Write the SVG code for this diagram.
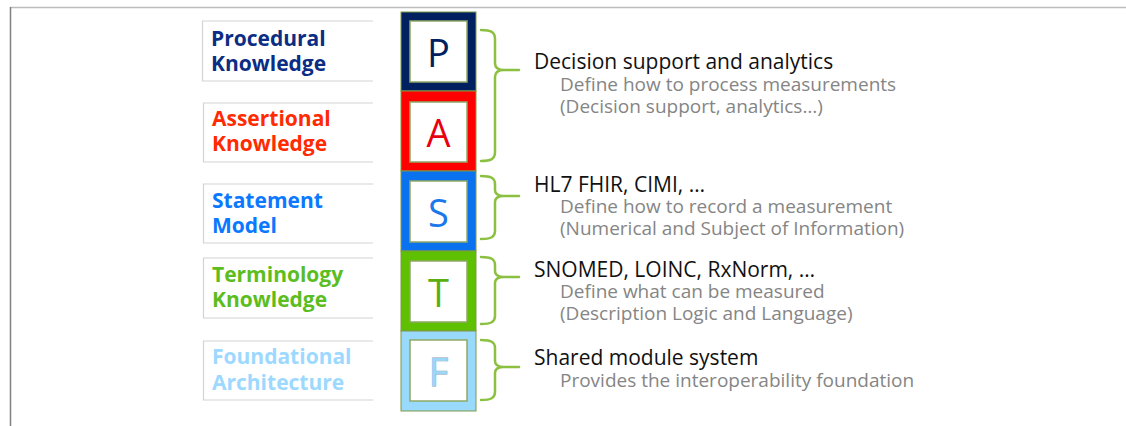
<svg xmlns="http://www.w3.org/2000/svg" width="1126" height="426" viewBox="0 0 1126 426">
<style>
.frame-top{stroke:#bdbdbd;stroke-width:1.5;fill:none}
.frame-left{stroke:#808080;stroke-width:1.5;fill:none}
.lbox{fill:none;stroke:#d3d3d3;stroke-width:1.2}
.lbl{font-family:"Open Sans","Liberation Sans",sans-serif;font-weight:bold;font-size:21px}
.blk{stroke:#7d9a45;stroke-width:1}
.inner{fill:#ffffff;stroke:#8ea866;stroke-width:1.5}
.let{font-family:"Open Sans","Liberation Sans",sans-serif;font-size:38px;text-anchor:middle}
.brace{fill:none;stroke:#8cc040;stroke-width:2.5;stroke-linecap:round;stroke-linejoin:round}
.h{font-family:"Open Sans","Liberation Sans",sans-serif;font-size:21px;fill:#111111}
.s{font-family:"Open Sans","Liberation Sans",sans-serif;font-size:19px;fill:#858585}
</style>
<line class="frame-top" x1="10" y1="7.5" x2="1126" y2="7.5"/>
<line class="frame-left" x1="10.5" y1="7" x2="10.5" y2="426"/>

<g id="label-procedural">
<path class="lbox" d="M373,21 H202.5 V81 H373"/>
<text class="lbl" fill="#0b2d84"><tspan x="211" y="46">Procedural</tspan><tspan x="211" y="71">Knowledge</tspan></text>
</g>
<g id="label-assertional">
<path class="lbox" d="M373,103 H203.5 V162 H373"/>
<text class="lbl" fill="#ff2a00"><tspan x="212" y="126">Assertional</tspan><tspan x="212" y="151">Knowledge</tspan></text>
</g>
<g id="label-statement">
<path class="lbox" d="M373,184 H203.5 V243 H373"/>
<text class="lbl" fill="#0a78ff"><tspan x="212" y="208">Statement</tspan><tspan x="212" y="233">Model</tspan></text>
</g>
<g id="label-terminology">
<path class="lbox" d="M373,258 H203.5 V318 H373"/>
<text class="lbl" fill="#5cbd1e"><tspan x="212" y="282">Terminology</tspan><tspan x="212" y="307">Knowledge</tspan></text>
</g>
<g id="label-foundational">
<path class="lbox" d="M373,341 H203.5 V400 H373"/>
<text class="lbl" fill="#9dd9ff"><tspan x="212" y="364">Foundational</tspan><tspan x="212" y="390">Architecture</tspan></text>
</g>

<g id="block-P">
<rect class="blk" x="401" y="12" width="75" height="79" fill="#002060"/>
<rect class="inner" x="410" y="21" width="57" height="61"/>
<text class="let" x="438.5" y="67" fill="#002060">P</text>
</g>
<g id="block-A">
<rect class="blk" x="401" y="91" width="75" height="80" fill="#ff0000"/>
<rect class="inner" x="410" y="102" width="57" height="60"/>
<text class="let" x="438.5" y="147" fill="#e8000e">A</text>
</g>
<g id="block-S">
<rect class="blk" x="401" y="171" width="75" height="80" fill="#0a72ee"/>
<rect class="inner" x="410" y="181" width="57" height="61"/>
<text class="let" x="438.5" y="227" fill="#1a78e8">S</text>
</g>
<g id="block-T">
<rect class="blk" x="401" y="251" width="75" height="80" fill="#5ec000"/>
<rect class="inner" x="410" y="261" width="57" height="61"/>
<text class="let" x="438.5" y="307" fill="#5aae10">T</text>
</g>
<g id="block-F">
<rect class="blk" x="401" y="331" width="75" height="80" fill="#99d9fb"/>
<rect class="inner" x="410" y="340" width="57" height="61"/>
<text class="let" x="438.5" y="386" fill="#9ad6f8" stroke="#8aa2b0" stroke-width="0.8" paint-order="stroke">F</text>
</g>

<g id="connectors">
<path class="brace" d="M481,30 C491,30 495,32 495,39 L495,63 C495,68 498,70 504,70 L519,70 M504,70 C498,70 495,72 495,77 L495,152 C495,159 491,161 481,161"/>
<path class="brace" d="M481,176 C491,176 495,178 495,184 L495,190 C495,194 498,196 504,196 L519,196 M504,196 C498,196 495,198 495,202 L495,231 C495,237 491,239 481,239"/>
<path class="brace" d="M481,257 C491,257 495,259 495,265 L495,271 C495,275 498,277 504,277 L519,277 M504,277 C498,277 495,279 495,283 L495,316 C495,322 491,324 481,324"/>
<path class="brace" d="M481,340 C491,340 495,342 495,348 L495,361 C495,365 498,367 504,367 L519,367 M504,367 C498,367 495,369 495,373 L495,392 C495,398 491,400 481,400"/>
</g>

<g id="desc-P">
<text class="h" x="534" y="69">Decision support and analytics</text>
<text class="s" x="560" y="91">Define how to process measurements</text>
<text class="s" x="560" y="113">(Decision support, analytics…)</text>
</g>
<g id="desc-S">
<text class="h" x="534" y="192">HL7 FHIR, CIMI, …</text>
<text class="s" x="560" y="213">Define how to record a measurement</text>
<text class="s" x="560" y="235">(Numerical and Subject of Information)</text>
</g>
<g id="desc-T">
<text class="h" x="534" y="277">SNOMED, LOINC, RxNorm, …</text>
<text class="s" x="560" y="298">Define what can be measured</text>
<text class="s" x="560" y="320">(Description Logic and Language)</text>
</g>
<g id="desc-F">
<text class="h" x="534" y="365">Shared module system</text>
<text class="s" x="560" y="387">Provides the interoperability foundation</text>
</g>
</svg>
